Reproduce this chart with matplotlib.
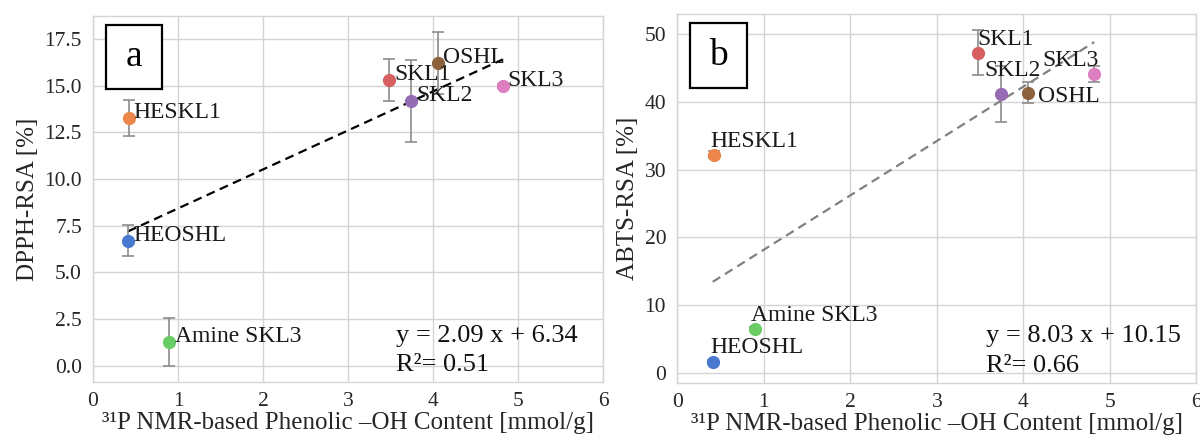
import matplotlib
matplotlib.use('Agg')
import matplotlib.pyplot as plt
import matplotlib.patches as patches
import numpy as np

plt.rcParams['font.family'] = ['Liberation Serif', 'DejaVu Serif']

# samples (seaborn "muted" palette order)
names = ["HEOSHL", "HESKL1", "Amine SKL3", "SKL1", "SKL2", "OSHL", "SKL3"]
colors = ["#4878d0", "#ee854a", "#6acc64", "#d65f5f", "#956cb4", "#8c613c", "#dc7ec0"]

# 31P NMR phenolic OH content [mmol/g]
phenolic_oh = [0.41, 0.42, 0.90, 3.48, 3.74, 4.06, 4.82]

# DPPH radical scavenging [%]
dpph = [6.70, 13.27, 1.27, 15.29, 14.18, 16.21, 14.98]
dpph_err = [0.84, 0.95, 1.30, 1.13, 2.18, 1.65, 0.12]

# ABTS radical scavenging [%]
abts = [1.6, 32.2, 6.5, 47.3, 41.2, 41.4, 44.2]
abts_err = [0.3, 0.5, 0.3, 3.3, 4.2, 1.6, 1.2]

# linear fits as printed on the chart
fit_a = (2.09, 6.34, 0.51)
fit_b = (8.03, 10.15, 0.66)

# label offsets (data units) for each sample name
label_off_a = [(0.06, 0.0)] * 7
label_off_b = [(-0.03, 1.25), (-0.04, 1.2), (-0.05, 1.2), (-0.01, 1.1),
               (-0.19, 2.6), (0.11, -1.4), (-0.6, 1.2)]

GRID = '#d4d4d4'


def style_axes(ax):
    ax.set_facecolor('white')
    ax.grid(True, color=GRID, lw=1.0)
    ax.set_axisbelow(True)
    for sp in ax.spines.values():
        sp.set_color(GRID)
        sp.set_linewidth(1.0)
    ax.tick_params(length=0, labelsize=15.5, colors='#262626')
    ax.tick_params(axis='y', pad=8)
    ax.tick_params(axis='x', pad=7)
    ax.set_xlim(0, 6)
    ax.set_xticks(range(7))
    ax.set_xlabel("³¹P NMR-based Phenolic –OH Content [mmol/g]", fontsize=18,
                  color='#262626', labelpad=1)


def draw_panel(ax, yvals, yerr, fit, offsets, letter, line_color, ylabel, ylim, yticks):
    style_axes(ax)
    for x, y, e, c in zip(phenolic_oh, yvals, yerr, colors):
        ax.errorbar(x, y, yerr=e, fmt='none', ecolor='#8c8c8c', elinewidth=1.2,
                    capsize=4, capthick=1.2, zorder=3)
        ax.plot(x, y, 'o', color=c, markersize=8.5, zorder=4)
    for x, y, n, (dx, dy) in zip(phenolic_oh, yvals, names, offsets):
        ax.text(x + dx, y + dy, n, fontsize=17, color='#1a1a1a', va='baseline',
                ha='left', zorder=5)
    xs = np.array([min(phenolic_oh), max(phenolic_oh)])
    ax.plot(xs, fit[0] * xs + fit[1], ls='--', color=line_color, lw=1.6,
            dashes=(4, 2.5), zorder=2)
    ax.set_ylim(*ylim)
    ax.set_yticks(yticks)
    ax.set_ylabel(ylabel, fontsize=18, color='#262626')
    ax.text(0.595, 0.11, f"y = {fit[0]:.2f} x + {fit[1]:.2f}", transform=ax.transAxes,
            fontsize=19, va='baseline', ha='left', color='#111111')
    ax.text(0.595, 0.03, f"R²= {fit[2]:.2f}", transform=ax.transAxes,
            fontsize=19, va='baseline', ha='left', color='#111111')
    # panel letter box
    box = patches.Rectangle((0.025, 0.80), 0.11, 0.175, transform=ax.transAxes,
                            fill=True, facecolor='white', edgecolor='black',
                            lw=1.6, zorder=6)
    ax.add_patch(box)
    ax.text(0.08, 0.8875, letter, transform=ax.transAxes, fontsize=27,
            ha='center', va='center', zorder=7)


fig = plt.figure(figsize=(12, 4.4), dpi=100, facecolor='white')
ax_a = fig.add_axes([0.0775, 0.131, 0.425, 0.833])
ax_b = fig.add_axes([0.5644, 0.130, 0.4325, 0.838])

draw_panel(ax_a, dpph, dpph_err, fit_a, label_off_a, 'a', 'black',
           'DPPH-RSA [%]', (-0.89, 18.75), np.arange(0, 17.6, 2.5))
ax_a.set_yticklabels([f"{v:.1f}" for v in np.arange(0, 17.6, 2.5)])
draw_panel(ax_b, abts, abts_err, fit_b, label_off_b, 'b', '#808080',
           'ABTS-RSA [%]', (-1.48, 53.0), range(0, 51, 10))

fig.savefig('out.png', dpi=100, facecolor='white')
